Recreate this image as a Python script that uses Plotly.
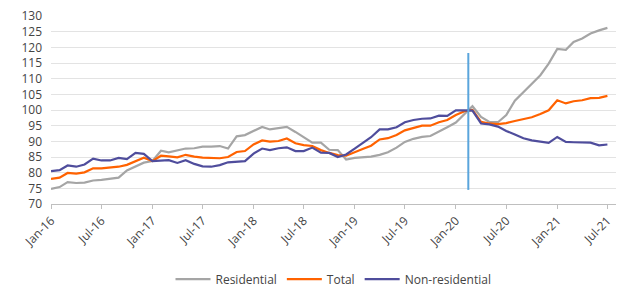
import pandas as pd
import plotly.graph_objects as go

months = pd.date_range("2016-01-01", "2021-07-01", freq="MS")

residential = [74.8, 75.4, 77.0, 76.7, 76.8, 77.5, 77.7, 78.1, 78.4, 80.7, 81.9, 83.2,
               83.7, 87.0, 86.5, 87.2, 87.7, 87.8, 88.3, 88.3, 88.5, 87.7, 91.6, 92.0,
               93.3, 94.6, 93.8, 94.1, 94.6, 93.0, 91.4, 89.6, 89.6, 87.3, 87.2, 84.2,
               84.7, 85.0, 85.1, 85.7, 86.5, 88.0, 89.8, 90.8, 91.4, 91.7, 93.0, 94.5,
               96.0, 98.6, 101.2, 97.8, 96.2, 96.1, 98.4, 103.0, 105.8, 108.3, 111.1, 114.8,
               119.5, 119.2, 121.7, 122.8, 124.4, 125.4, 126.2]

total = [78.0, 78.4, 79.9, 79.7, 80.1, 81.4, 81.4, 81.6, 81.9, 82.5, 83.6, 84.8,
         83.7, 85.4, 85.2, 84.9, 85.7, 85.1, 84.8, 84.7, 84.6, 85.0, 86.6, 86.9,
         89.0, 90.3, 89.9, 90.1, 90.9, 89.4, 88.8, 88.5, 87.2, 86.3, 85.6, 85.4,
         86.4, 87.6, 88.6, 90.6, 91.0, 92.0, 93.5, 94.3, 95.0, 95.0, 96.1, 96.8,
         98.4, 99.6, 100.0, 96.2, 95.7, 95.5, 95.8, 96.5, 97.1, 97.7, 98.7, 99.9,
         103.1, 102.1, 102.8, 103.1, 103.8, 103.9, 104.5]

non_residential = [80.5, 80.8, 82.3, 81.9, 82.6, 84.5, 83.9, 83.9, 84.7, 84.3, 86.3, 86.0,
                   83.7, 83.8, 84.0, 83.1, 84.0, 82.8, 82.0, 81.9, 82.4, 83.3, 83.4, 83.7,
                   86.1, 87.7, 87.2, 87.8, 88.1, 86.9, 86.9, 88.0, 86.4, 86.3, 85.0, 85.8,
                   87.7, 89.7, 91.3, 93.8, 93.8, 94.5, 96.1, 96.8, 97.2, 97.3, 98.2, 98.1,
                   99.9, 99.9, 99.8, 95.7, 95.4, 94.7, 93.3, 92.2, 91.0, 90.3, 89.8, 89.5,
                   91.4, 89.8, 89.7, 89.6, 89.6, 88.7, 89.0]

marker_x = ["2020-02-15", "2020-02-15"]
marker_y = [74.5, 118.2]

fig = go.Figure()
fig.add_trace(go.Scatter(x=months, y=residential, name="Residential", mode="lines",
                         line=dict(color="#A5A5A5", width=2.2)))
fig.add_trace(go.Scatter(x=months, y=total, name="Total", mode="lines",
                         line=dict(color="#FF6200", width=2.2)))
fig.add_trace(go.Scatter(x=months, y=non_residential, name="Non-residential", mode="lines",
                         line=dict(color="#4F4D9C", width=2.2)))
fig.add_trace(go.Scatter(x=marker_x, y=marker_y, mode="lines", showlegend=False,
                         line=dict(color="#5AA5DC", width=2), hoverinfo="skip"))

fig.update_layout(
    width=640, height=294,
    margin=dict(l=51, r=24, t=16, b=90, autoexpand=False),
    paper_bgcolor="white", plot_bgcolor="white",
    font=dict(family="Open Sans", size=12, color="#444444"),
    showlegend=True,
    legend=dict(orientation="h", x=0.5, xanchor="center", y=-0.40, yanchor="middle",
                font=dict(size=12, color="#444444"), itemwidth=35, traceorder="normal"),
)
fig.update_xaxes(
    type="date", range=["2016-01-01", "2021-08-01"],
    tick0="2016-01-01", dtick="M6", tickformat="%b-%y", tickangle=-45,
    ticks="outside", ticklen=4, tickcolor="#bfbfbf",
    showline=True, linecolor="#bfbfbf", linewidth=1,
    showgrid=False, zeroline=False, automargin=False,
    tickfont=dict(size=12, color="#444444"),
)
fig.update_yaxes(
    range=[70, 130], dtick=5, tick0=70,
    showgrid=True, gridcolor="#e3e3e3", gridwidth=1,
    showline=False, zeroline=False, ticks="", automargin=False,
    ticklabelstandoff=8,
    tickfont=dict(size=12, color="#444444"),
)

fig.write_html("out.html")
